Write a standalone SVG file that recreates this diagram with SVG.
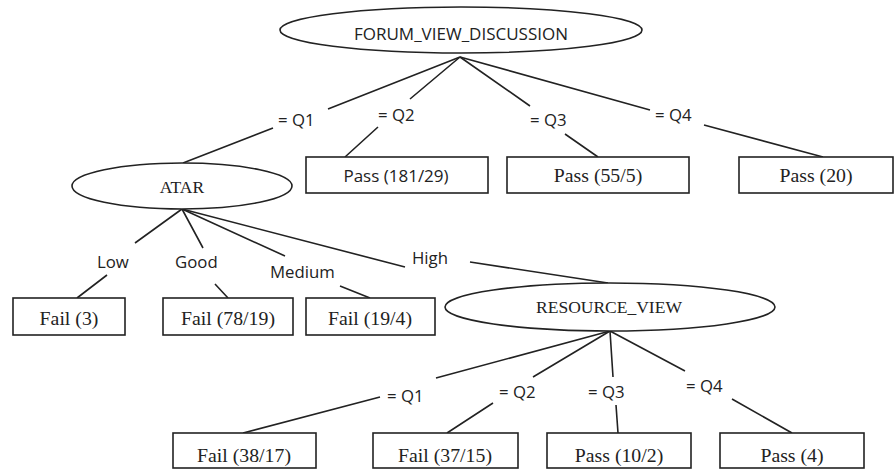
<svg xmlns="http://www.w3.org/2000/svg" width="895" height="469" viewBox="0 0 895 469">
<style>
.n{fill:#fff;stroke:#222;stroke-width:1.6}
.e{fill:none;stroke:#222;stroke-width:1.6}
.s{font-family:"Open Sans","DejaVu Sans",sans-serif;font-size:16.8px;fill:#222}
.t{font-family:"Liberation Serif","Times New Roman",serif;font-size:19.8px;fill:#222;text-anchor:middle}
.m{text-anchor:middle}
</style>
<rect width="895" height="469" fill="#fff"/>
<g id="connectors">
<path class="e" d="M460 57L328 109M273 128L183 163"/>
<path class="e" d="M460 57L410 99M378 127L345 157"/>
<path class="e" d="M460 57L530 106M565 134L598 157"/>
<path class="e" d="M460 57L650 110M704 125L823 157"/>
<path class="e" d="M182 209L135 243M107 275L77 298"/>
<path class="e" d="M182 209L203 248M215 284L228 298"/>
<path class="e" d="M182 209L285 256M340 286L370 298"/>
<path class="e" d="M182 209L405 267M470 262L608 283"/>
<path class="e" d="M610 331L436 378M380 397L243 433"/>
<path class="e" d="M610 331L533 377M493 403L447 433"/>
<path class="e" d="M610 331L613 377M616 405L618 433"/>
<path class="e" d="M610 331L685 371M732 399L792 433"/>
<text class="s" x="278" y="126">= Q1</text>
<text class="s" x="378" y="121">= Q2</text>
<text class="s" x="530" y="126">= Q3</text>
<text class="s" x="655" y="121">= Q4</text>
<text class="s" x="97" y="268">Low</text>
<text class="s" x="175" y="268">Good</text>
<text class="s" x="270" y="278">Medium</text>
<text class="s" x="412" y="264">High</text>
<text class="s" x="387" y="402">= Q1</text>
<text class="s" x="499" y="398">= Q2</text>
<text class="s" x="588" y="398">= Q3</text>
<text class="s" x="686" y="392">= Q4</text>
</g>
<g id="forum"><ellipse class="n" cx="461" cy="30" rx="181" ry="23"/><text class="s m" x="461" y="40" style="font-size:17px">FORUM_VIEW_DISCUSSION</text></g>
<g id="atar"><ellipse class="n" cx="182" cy="186" rx="110" ry="23"/><text class="t" x="182" y="193" style="font-size:17.5px">ATAR</text></g>
<g id="resource"><ellipse class="n" cx="610" cy="307" rx="165" ry="24"/><text class="t" x="609" y="313" style="font-size:17.5px">RESOURCE_VIEW</text></g>
<g id="pass181"><rect class="n" x="306" y="157" width="182" height="36"/><text class="s m" x="396" y="182" style="font-size:17px">Pass (181/29)</text></g>
<g id="pass55"><rect class="n" x="507" y="157" width="182" height="36"/><text class="t" x="598" y="182">Pass (55/5)</text></g>
<g id="pass20"><rect class="n" x="739" y="157" width="154" height="36"/><text class="t" x="816" y="182">Pass (20)</text></g>
<g id="fail3"><rect class="n" x="13" y="298" width="112" height="37"/><text class="t" x="69" y="325">Fail (3)</text></g>
<g id="fail78"><rect class="n" x="163" y="298" width="130" height="37"/><text class="t" x="228" y="325">Fail (78/19)</text></g>
<g id="fail19"><rect class="n" x="306" y="298" width="129" height="37"/><text class="t" x="370" y="325">Fail (19/4)</text></g>
<g id="fail38"><rect class="n" x="173" y="433" width="143" height="35"/><text class="t" x="244" y="462">Fail (38/17)</text></g>
<g id="fail37"><rect class="n" x="373" y="433" width="145" height="35"/><text class="t" x="445" y="462">Fail (37/15)</text></g>
<g id="pass10"><rect class="n" x="547" y="433" width="144" height="35"/><text class="t" x="619" y="462">Pass (10/2)</text></g>
<g id="pass4"><rect class="n" x="720" y="433" width="144" height="35"/><text class="t" x="792" y="462">Pass (4)</text></g>
</svg>
